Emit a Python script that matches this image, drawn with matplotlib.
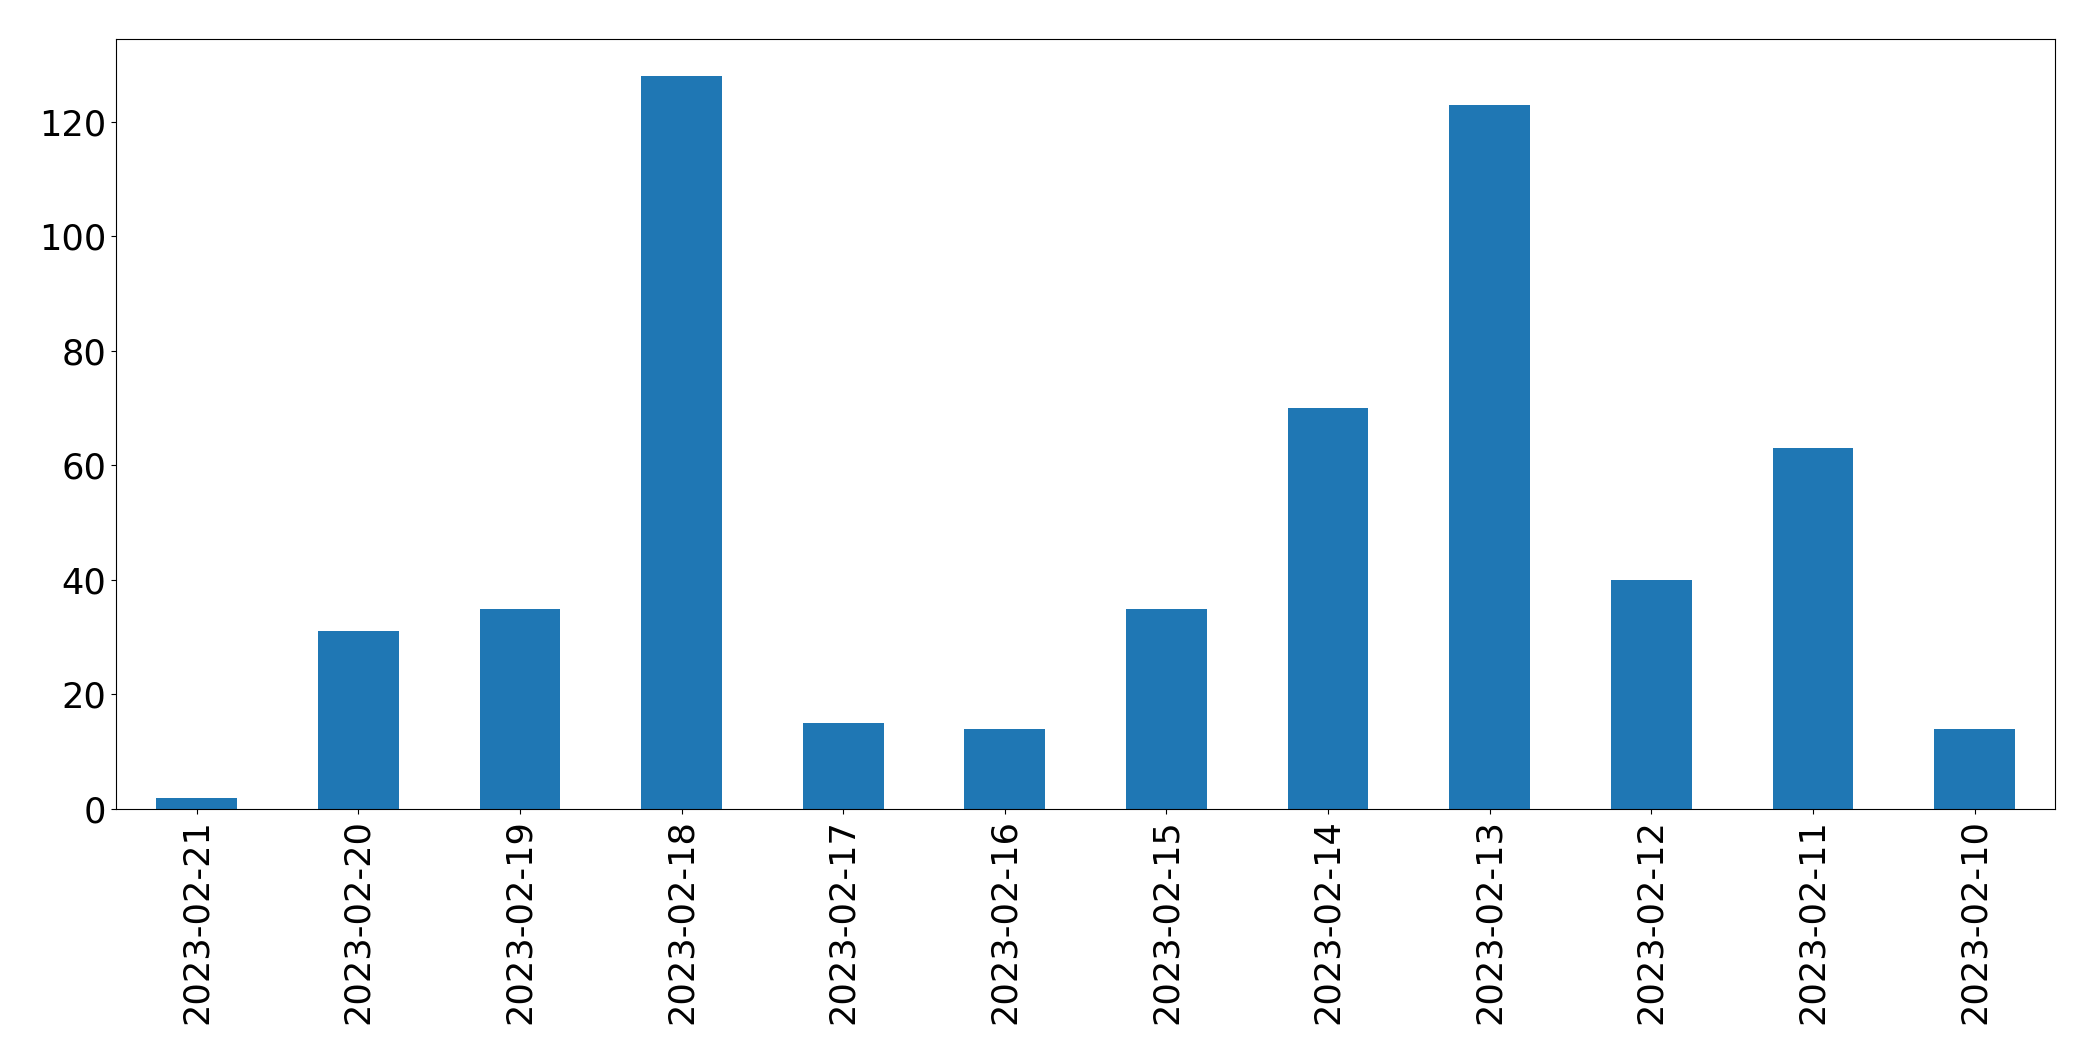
import matplotlib
matplotlib.use("Agg")
import matplotlib.pyplot as plt
import numpy as np

dates = ["2023-02-21", "2023-02-20", "2023-02-19", "2023-02-18",
         "2023-02-17", "2023-02-16", "2023-02-15", "2023-02-14",
         "2023-02-13", "2023-02-12", "2023-02-11", "2023-02-10"]
counts = [2, 31, 35, 128, 15, 14, 35, 70, 123, 40, 63, 14]

plt.rcParams["font.size"] = 25.3

fig = plt.figure(figsize=(20.93, 10.61), dpi=100)
ax = fig.add_axes([0.0554, 0.2375, 0.9266, 0.7255])

x = np.arange(len(dates))
ax.bar(x, counts, width=0.5, color="#1f77b4")
ax.set_xlim(-0.5, len(dates) - 0.5)
ax.set_xticks(x)
ax.set_xticklabels(dates, rotation=90)

fig.savefig("out.png", dpi=100)
plt.close()
